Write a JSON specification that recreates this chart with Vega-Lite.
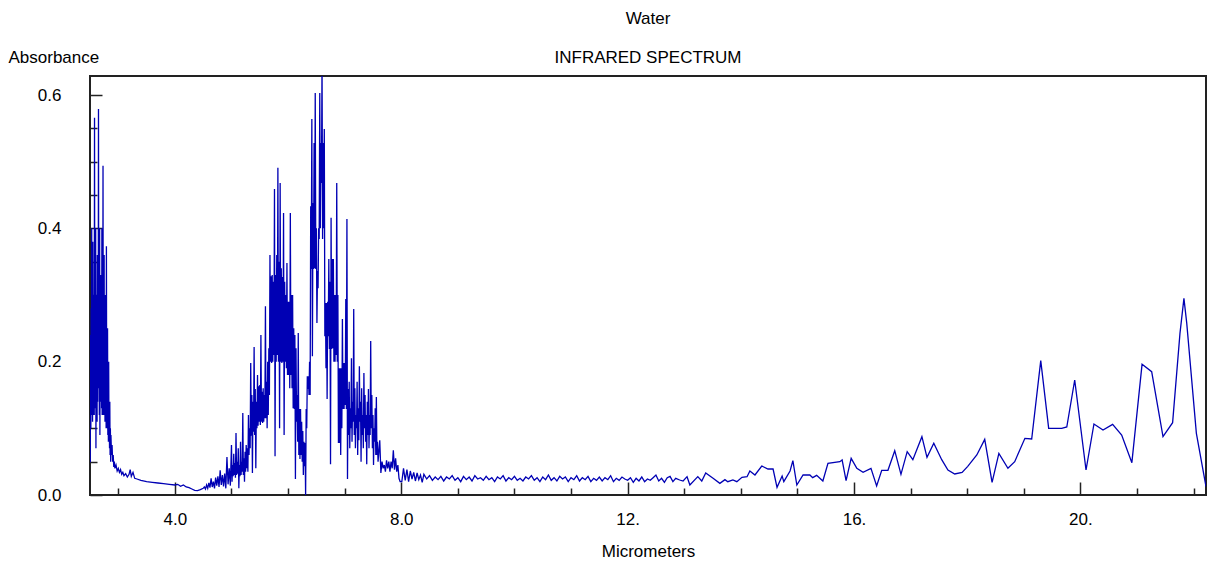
{
 "$schema": "https://vega.github.io/schema/vega-lite/v6.json",
 "width": 1116, "height": 419,
 "autosize": {"type": "none"},
 "padding": {"left": 90, "top": 76, "right": 1, "bottom": 68},
 "background": "white",
 "config": {"view": {"stroke": "#222", "strokeWidth": 2}, "font": "Liberation Sans"},
 "title": {"text": "Water", "subtitle": "INFRARED SPECTRUM", "anchor": "middle", "frame": "group", "fontSize": 17, "fontWeight": "normal", "color": "#000", "subtitleFontSize": 17, "subtitleColor": "#000", "subtitlePadding": 22, "offset": -19, "font": "Liberation Sans", "subtitleFont": "Liberation Sans"},
 "data": {"values": [
{"um":2.500,"abs":0.05},{"um":2.505,"abs":0.05},{"um":2.510,"abs":0.24},{"um":2.515,"abs":0.10},{"um":2.520,"abs":0.28},{"um":2.525,"abs":0.12},{"um":2.530,"abs":0.40},{"um":2.535,"abs":0.13},{"um":2.540,"abs":0.30},{"um":2.545,"abs":0.11},{"um":2.550,"abs":0.38},{"um":2.555,"abs":0.12},{"um":2.560,"abs":0.26},{"um":2.565,"abs":0.14},{"um":2.570,"abs":0.30},{"um":2.575,"abs":0.12},{"um":2.580,"abs":0.566},{"um":2.585,"abs":0.15},{"um":2.590,"abs":0.28},{"um":2.595,"abs":0.13},{"um":2.600,"abs":0.40},{"um":2.605,"abs":0.07},{"um":2.610,"abs":0.28},{"um":2.615,"abs":0.12},{"um":2.620,"abs":0.30},{"um":2.625,"abs":0.11},{"um":2.630,"abs":0.36},{"um":2.635,"abs":0.14},{"um":2.640,"abs":0.28},{"um":2.645,"abs":0.16},{"um":2.650,"abs":0.579},{"um":2.655,"abs":0.16},{"um":2.660,"abs":0.30},{"um":2.665,"abs":0.12},{"um":2.670,"abs":0.40},{"um":2.675,"abs":0.09},{"um":2.680,"abs":0.28},{"um":2.685,"abs":0.17},{"um":2.690,"abs":0.33},{"um":2.695,"abs":0.14},{"um":2.700,"abs":0.29},{"um":2.705,"abs":0.13},{"um":2.710,"abs":0.40},{"um":2.715,"abs":0.12},{"um":2.720,"abs":0.27},{"um":2.725,"abs":0.14},{"um":2.730,"abs":0.494},{"um":2.735,"abs":0.12},{"um":2.740,"abs":0.30},{"um":2.745,"abs":0.14},{"um":2.750,"abs":0.36},{"um":2.755,"abs":0.12},{"um":2.760,"abs":0.26},{"um":2.765,"abs":0.11},{"um":2.770,"abs":0.30},{"um":2.775,"abs":0.12},{"um":2.780,"abs":0.22},{"um":2.785,"abs":0.10},{"um":2.790,"abs":0.373},{"um":2.795,"abs":0.12},{"um":2.800,"abs":0.20},{"um":2.805,"abs":0.10},{"um":2.810,"abs":0.25},{"um":2.815,"abs":0.09},{"um":2.820,"abs":0.16},{"um":2.825,"abs":0.08},{"um":2.830,"abs":0.20},{"um":2.835,"abs":0.09},{"um":2.840,"abs":0.12},{"um":2.845,"abs":0.07},{"um":2.850,"abs":0.14},{"um":2.855,"abs":0.06},{"um":2.860,"abs":0.10},{"um":2.865,"abs":0.05},{"um":2.870,"abs":0.09},{"um":2.88,"abs":0.06},{"um":2.89,"abs":0.075},{"um":2.90,"abs":0.05},{"um":2.91,"abs":0.06},{"um":2.92,"abs":0.042},{"um":2.93,"abs":0.05},{"um":2.94,"abs":0.04},{"um":2.96,"abs":0.045},{"um":2.98,"abs":0.036},{"um":3.00,"abs":0.04},{"um":3.02,"abs":0.034},{"um":3.04,"abs":0.038},{"um":3.06,"abs":0.031},{"um":3.08,"abs":0.034},{"um":3.10,"abs":0.029},{"um":3.13,"abs":0.032},{"um":3.16,"abs":0.027},{"um":3.19,"abs":0.031},{"um":3.21,"abs":0.038},{"um":3.23,"abs":0.028},{"um":3.26,"abs":0.034},{"um":3.29,"abs":0.025},{"um":3.33,"abs":0.024},{"um":3.40,"abs":0.022},{"um":3.50,"abs":0.020},{"um":3.60,"abs":0.019},{"um":3.70,"abs":0.018},{"um":3.80,"abs":0.017},{"um":3.90,"abs":0.016},{"um":4.00,"abs":0.015},{"um":4.05,"abs":0.016},{"um":4.10,"abs":0.013},{"um":4.15,"abs":0.015},{"um":4.20,"abs":0.012},{"um":4.25,"abs":0.011},{"um":4.30,"abs":0.009},{"um":4.35,"abs":0.007},{"um":4.40,"abs":0.0065},{"um":4.45,"abs":0.008},
{"um":4.50,"abs":0.010},{"um":4.52,"abs":0.012},{"um":4.54,"abs":0.009},{"um":4.56,"abs":0.015},{"um":4.58,"abs":0.010},{"um":4.60,"abs":0.018},{"um":4.62,"abs":0.011},{"um":4.64,"abs":0.025},{"um":4.66,"abs":0.012},{"um":4.68,"abs":0.020},{"um":4.70,"abs":0.010},{"um":4.72,"abs":0.026},{"um":4.74,"abs":0.014},{"um":4.76,"abs":0.028},{"um":4.78,"abs":0.012},{"um":4.80,"abs":0.037},{"um":4.82,"abs":0.015},{"um":4.84,"abs":0.030},{"um":4.86,"abs":0.013},{"um":4.88,"abs":0.032},{"um":4.90,"abs":0.010},{"um":4.92,"abs":0.057},{"um":4.94,"abs":0.016},{"um":4.96,"abs":0.040},{"um":4.98,"abs":0.014},
{"um":5.00,"abs":0.075},{"um":5.01,"abs":0.020},{"um":5.02,"abs":0.045},{"um":5.03,"abs":0.028},{"um":5.04,"abs":0.062},{"um":5.05,"abs":0.030},{"um":5.06,"abs":0.048},{"um":5.07,"abs":0.026},{"um":5.08,"abs":0.093},{"um":5.09,"abs":0.030},{"um":5.10,"abs":0.050},{"um":5.11,"abs":0.032},{"um":5.12,"abs":0.070},{"um":5.13,"abs":0.010},{"um":5.14,"abs":0.045},{"um":5.15,"abs":0.028},{"um":5.16,"abs":0.080},{"um":5.17,"abs":0.030},{"um":5.18,"abs":0.050},{"um":5.19,"abs":0.035},{"um":5.20,"abs":0.123},{"um":5.21,"abs":0.030},{"um":5.22,"abs":0.055},{"um":5.23,"abs":0.020},{"um":5.24,"abs":0.065},{"um":5.25,"abs":0.035},{"um":5.26,"abs":0.075},{"um":5.27,"abs":0.040},{"um":5.28,"abs":0.070},{"um":5.29,"abs":0.035},{"um":5.30,"abs":0.120},{"um":5.31,"abs":0.060},{"um":5.32,"abs":0.100},{"um":5.33,"abs":0.070},{"um":5.34,"abs":0.198},{"um":5.35,"abs":0.089},{"um":5.36,"abs":0.150},{"um":5.37,"abs":0.033},{"um":5.38,"abs":0.140},{"um":5.39,"abs":0.095},{"um":5.40,"abs":0.222},{"um":5.41,"abs":0.090},{"um":5.42,"abs":0.159},{"um":5.43,"abs":0.040},{"um":5.44,"abs":0.140},{"um":5.45,"abs":0.100},{"um":5.46,"abs":0.180},{"um":5.47,"abs":0.104},{"um":5.48,"abs":0.163},{"um":5.49,"abs":0.110},{"um":5.50,"abs":0.165},{"um":5.51,"abs":0.105},{"um":5.52,"abs":0.240},{"um":5.53,"abs":0.110},{"um":5.54,"abs":0.155},{"um":5.55,"abs":0.108},{"um":5.56,"abs":0.160},{"um":5.57,"abs":0.110},{"um":5.58,"abs":0.150},{"um":5.59,"abs":0.115},{"um":5.60,"abs":0.283},{"um":5.61,"abs":0.115},{"um":5.62,"abs":0.170},{"um":5.63,"abs":0.100},{"um":5.64,"abs":0.200},{"um":5.65,"abs":0.120},{"um":5.66,"abs":0.220},{"um":5.67,"abs":0.150},{"um":5.68,"abs":0.360},{"um":5.69,"abs":0.200},{"um":5.70,"abs":0.328},{"um":5.71,"abs":0.198},{"um":5.72,"abs":0.330},{"um":5.73,"abs":0.200},{"um":5.74,"abs":0.320},{"um":5.75,"abs":0.210},{"um":5.76,"abs":0.459},{"um":5.77,"abs":0.058},{"um":5.78,"abs":0.330},{"um":5.79,"abs":0.200},{"um":5.80,"abs":0.360},{"um":5.81,"abs":0.210},{"um":5.82,"abs":0.491},{"um":5.83,"abs":0.200},{"um":5.84,"abs":0.350},{"um":5.85,"abs":0.100},{"um":5.86,"abs":0.468},{"um":5.87,"abs":0.200},{"um":5.88,"abs":0.340},{"um":5.89,"abs":0.198},{"um":5.90,"abs":0.327},{"um":5.91,"abs":0.200},{"um":5.92,"abs":0.423},{"um":5.93,"abs":0.090},{"um":5.94,"abs":0.320},{"um":5.95,"abs":0.200},{"um":5.96,"abs":0.300},{"um":5.97,"abs":0.190},{"um":5.98,"abs":0.348},{"um":5.99,"abs":0.180},{"um":6.00,"abs":0.290},{"um":6.01,"abs":0.180},{"um":6.02,"abs":0.290},{"um":6.03,"abs":0.160},{"um":6.04,"abs":0.423},{"um":6.05,"abs":0.180},{"um":6.06,"abs":0.300},{"um":6.07,"abs":0.160},{"um":6.08,"abs":0.300},{"um":6.09,"abs":0.130},{"um":6.10,"abs":0.250},{"um":6.11,"abs":0.129},{"um":6.12,"abs":0.240},{"um":6.13,"abs":0.024},{"um":6.14,"abs":0.220},{"um":6.15,"abs":0.110},{"um":6.16,"abs":0.150},{"um":6.17,"abs":0.080},{"um":6.18,"abs":0.243},{"um":6.19,"abs":0.060},{"um":6.20,"abs":0.129},{"um":6.21,"abs":0.054},{"um":6.22,"abs":0.129},{"um":6.23,"abs":0.060},{"um":6.24,"abs":0.110},{"um":6.25,"abs":0.050},{"um":6.26,"abs":0.096},{"um":6.27,"abs":0.030},{"um":6.28,"abs":0.080},{"um":6.29,"abs":0.043},{"um":6.30,"abs":0.078},{"um":6.31,"abs":0.000},{"um":6.32,"abs":0.129},{"um":6.33,"abs":0.100},{"um":6.34,"abs":0.178},{"um":6.35,"abs":0.159},{"um":6.36,"abs":0.178},{"um":6.37,"abs":0.150},{"um":6.38,"abs":0.200},{"um":6.39,"abs":0.150},{"um":6.40,"abs":0.433},{"um":6.41,"abs":0.339},{"um":6.42,"abs":0.564},{"um":6.43,"abs":0.208},{"um":6.44,"abs":0.438},{"um":6.45,"abs":0.339},{"um":6.46,"abs":0.528},{"um":6.47,"abs":0.340},{"um":6.48,"abs":0.603},{"um":6.49,"abs":0.339},{"um":6.50,"abs":0.400},{"um":6.51,"abs":0.258},{"um":6.52,"abs":0.336},{"um":6.53,"abs":0.310},{"um":6.54,"abs":0.400},{"um":6.55,"abs":0.384},{"um":6.56,"abs":0.603},{"um":6.57,"abs":0.400},{"um":6.58,"abs":0.528},{"um":6.59,"abs":0.468},{"um":6.60,"abs":0.65},{"um":6.61,"abs":0.384},{"um":6.62,"abs":0.528},{"um":6.63,"abs":0.400},{"um":6.64,"abs":0.549},{"um":6.65,"abs":0.238},{"um":6.66,"abs":0.288},{"um":6.67,"abs":0.190},{"um":6.68,"abs":0.288},{"um":6.69,"abs":0.144},{"um":6.70,"abs":0.290},{"um":6.71,"abs":0.238},{"um":6.72,"abs":0.354},{"um":6.73,"abs":0.219},{"um":6.74,"abs":0.320},{"um":6.75,"abs":0.046},{"um":6.76,"abs":0.416},{"um":6.77,"abs":0.219},{"um":6.78,"abs":0.354},{"um":6.79,"abs":0.220},{"um":6.80,"abs":0.354},{"um":6.81,"abs":0.200},{"um":6.82,"abs":0.300},{"um":6.83,"abs":0.200},{"um":6.84,"abs":0.300},{"um":6.85,"abs":0.210},{"um":6.86,"abs":0.468},{"um":6.87,"abs":0.200},{"um":6.88,"abs":0.300},{"um":6.89,"abs":0.078},{"um":6.90,"abs":0.190},{"um":6.91,"abs":0.078},{"um":6.92,"abs":0.190},{"um":6.93,"abs":0.060},{"um":6.94,"abs":0.190},{"um":6.95,"abs":0.100},{"um":6.96,"abs":0.264},{"um":6.97,"abs":0.129},{"um":6.98,"abs":0.198},{"um":6.99,"abs":0.129},{"um":7.00,"abs":0.198},{"um":7.01,"abs":0.135},{"um":7.02,"abs":0.294},{"um":7.03,"abs":0.129},{"um":7.04,"abs":0.414},{"um":7.05,"abs":0.024},{"um":7.06,"abs":0.159},{"um":7.07,"abs":0.090},{"um":7.08,"abs":0.170},{"um":7.09,"abs":0.070},{"um":7.10,"abs":0.130},{"um":7.11,"abs":0.100},{"um":7.12,"abs":0.205},{"um":7.13,"abs":0.080},{"um":7.14,"abs":0.140},{"um":7.15,"abs":0.110},{"um":7.16,"abs":0.279},{"um":7.17,"abs":0.090},{"um":7.18,"abs":0.160},{"um":7.19,"abs":0.070},{"um":7.20,"abs":0.120},{"um":7.21,"abs":0.100},{"um":7.22,"abs":0.170},{"um":7.23,"abs":0.060},{"um":7.24,"abs":0.130},{"um":7.25,"abs":0.082},{"um":7.26,"abs":0.193},{"um":7.27,"abs":0.110},{"um":7.28,"abs":0.140},{"um":7.29,"abs":0.050},{"um":7.30,"abs":0.160},{"um":7.31,"abs":0.090},{"um":7.32,"abs":0.120},{"um":7.33,"abs":0.070},{"um":7.34,"abs":0.183},{"um":7.35,"abs":0.100},{"um":7.36,"abs":0.150},{"um":7.37,"abs":0.080},{"um":7.38,"abs":0.120},{"um":7.39,"abs":0.046},{"um":7.40,"abs":0.140},{"um":7.41,"abs":0.090},{"um":7.42,"abs":0.159},{"um":7.43,"abs":0.070},{"um":7.44,"abs":0.120},{"um":7.45,"abs":0.090},{"um":7.46,"abs":0.231},{"um":7.47,"abs":0.100},{"um":7.48,"abs":0.150},{"um":7.49,"abs":0.070},{"um":7.50,"abs":0.120},{"um":7.51,"abs":0.045},{"um":7.52,"abs":0.100},{"um":7.53,"abs":0.080},{"um":7.54,"abs":0.130},{"um":7.55,"abs":0.060},{"um":7.56,"abs":0.147},{"um":7.57,"abs":0.060},{"um":7.58,"abs":0.080},{"um":7.59,"abs":0.050},{"um":7.60,"abs":0.060},
{"um":7.62,"abs":0.082},{"um":7.64,"abs":0.033},{"um":7.66,"abs":0.050},{"um":7.68,"abs":0.040},{"um":7.70,"abs":0.045},{"um":7.72,"abs":0.035},{"um":7.74,"abs":0.052},{"um":7.76,"abs":0.040},{"um":7.78,"abs":0.050},{"um":7.80,"abs":0.035},{"um":7.82,"abs":0.050},{"um":7.84,"abs":0.040},{"um":7.86,"abs":0.067},{"um":7.88,"abs":0.038},{"um":7.90,"abs":0.055},{"um":7.92,"abs":0.035},{"um":7.94,"abs":0.045},{"um":7.96,"abs":0.025},{"um":7.98,"abs":0.020},
{"um":8.01,"abs":0.020},{"um":8.04,"abs":0.040},{"um":8.07,"abs":0.022},{"um":8.10,"abs":0.038},{"um":8.13,"abs":0.020},{"um":8.16,"abs":0.036},{"um":8.19,"abs":0.024},{"um":8.22,"abs":0.034},{"um":8.25,"abs":0.021},{"um":8.28,"abs":0.033},{"um":8.31,"abs":0.023},{"um":8.34,"abs":0.030},{"um":8.37,"abs":0.019},{"um":8.40,"abs":0.031},{"um":8.45,"abs":0.024},{"um":8.50,"abs":0.029},{"um":8.55,"abs":0.022},{"um":8.60,"abs":0.027},{"um":8.65,"abs":0.023},{"um":8.70,"abs":0.028},{"um":8.75,"abs":0.021},{"um":8.80,"abs":0.027},{"um":8.85,"abs":0.024},{"um":8.90,"abs":0.029},{"um":8.95,"abs":0.022},{"um":9.00,"abs":0.026},{"um":9.05,"abs":0.020},{"um":9.10,"abs":0.028},{"um":9.15,"abs":0.023},{"um":9.20,"abs":0.027},{"um":9.25,"abs":0.021},{"um":9.30,"abs":0.029},{"um":9.35,"abs":0.024},{"um":9.40,"abs":0.026},{"um":9.45,"abs":0.022},{"um":9.50,"abs":0.028},{"um":9.55,"abs":0.023},{"um":9.60,"abs":0.026},{"um":9.65,"abs":0.020},{"um":9.70,"abs":0.027},{"um":9.75,"abs":0.024},{"um":9.80,"abs":0.029},{"um":9.85,"abs":0.021},{"um":9.90,"abs":0.026},{"um":9.95,"abs":0.023},{"um":10.00,"abs":0.028},{"um":10.05,"abs":0.022},{"um":10.10,"abs":0.025},{"um":10.15,"abs":0.021},{"um":10.20,"abs":0.027},{"um":10.25,"abs":0.024},{"um":10.30,"abs":0.029},{"um":10.35,"abs":0.022},{"um":10.40,"abs":0.026},{"um":10.45,"abs":0.020},{"um":10.50,"abs":0.027},{"um":10.55,"abs":0.023},{"um":10.60,"abs":0.030},{"um":10.65,"abs":0.022},{"um":10.70,"abs":0.026},{"um":10.75,"abs":0.021},{"um":10.80,"abs":0.028},{"um":10.85,"abs":0.024},{"um":10.90,"abs":0.027},{"um":10.95,"abs":0.020},{"um":11.00,"abs":0.026},{"um":11.05,"abs":0.023},{"um":11.10,"abs":0.029},{"um":11.15,"abs":0.021},{"um":11.20,"abs":0.026},{"um":11.25,"abs":0.023},{"um":11.30,"abs":0.028},{"um":11.35,"abs":0.020},{"um":11.40,"abs":0.025},{"um":11.45,"abs":0.022},{"um":11.50,"abs":0.027},{"um":11.55,"abs":0.021},{"um":11.60,"abs":0.026},{"um":11.65,"abs":0.023},{"um":11.70,"abs":0.029},{"um":11.75,"abs":0.020},{"um":11.80,"abs":0.025},{"um":11.85,"abs":0.022},{"um":11.90,"abs":0.027},{"um":11.95,"abs":0.024},{"um":12.00,"abs":0.022},{"um":12.05,"abs":0.026},{"um":12.10,"abs":0.019},{"um":12.15,"abs":0.025},{"um":12.20,"abs":0.021},{"um":12.25,"abs":0.027},{"um":12.30,"abs":0.020},{"um":12.35,"abs":0.024},{"um":12.40,"abs":0.022},{"um":12.45,"abs":0.026},{"um":12.50,"abs":0.030},{"um":12.55,"abs":0.021},{"um":12.60,"abs":0.025},{"um":12.65,"abs":0.019},{"um":12.70,"abs":0.026},{"um":12.75,"abs":0.028},{"um":12.80,"abs":0.020},{"um":12.85,"abs":0.025},
{"um":12.92,"abs":0.0225},{"um":12.98,"abs":0.021},{"um":13.05,"abs":0.0275},{"um":13.10,"abs":0.015},{"um":13.24,"abs":0.0275},{"um":13.31,"abs":0.021},{"um":13.38,"abs":0.033},{"um":13.51,"abs":0.025},{"um":13.63,"abs":0.0175},{"um":13.72,"abs":0.023},{"um":13.77,"abs":0.020},{"um":13.86,"abs":0.0225},{"um":13.93,"abs":0.020},{"um":14.02,"abs":0.0265},{"um":14.11,"abs":0.0275},{"um":14.16,"abs":0.036},{"um":14.25,"abs":0.030},{"um":14.37,"abs":0.0435},{"um":14.48,"abs":0.039},{"um":14.57,"abs":0.039},{"um":14.64,"abs":0.0115},{"um":14.73,"abs":0.0285},{"um":14.76,"abs":0.020},{"um":14.87,"abs":0.036},{"um":14.92,"abs":0.0515},{"um":14.99,"abs":0.015},{"um":15.10,"abs":0.030},{"um":15.22,"abs":0.030},{"um":15.27,"abs":0.026},{"um":15.34,"abs":0.0295},{"um":15.45,"abs":0.021},{"um":15.54,"abs":0.0475},{"um":15.75,"abs":0.050},{"um":15.79,"abs":0.0525},{"um":15.86,"abs":0.0215},{"um":15.95,"abs":0.055},{"um":16.05,"abs":0.040},{"um":16.16,"abs":0.034},{"um":16.30,"abs":0.040},{"um":16.40,"abs":0.0135},{"um":16.49,"abs":0.037},{"um":16.60,"abs":0.037},{"um":16.72,"abs":0.0665},{"um":16.83,"abs":0.031},{"um":16.94,"abs":0.065},{"um":17.04,"abs":0.053},{"um":17.20,"abs":0.0875},{"um":17.29,"abs":0.0565},{"um":17.41,"abs":0.0775},{"um":17.55,"abs":0.053},{"um":17.66,"abs":0.0375},{"um":17.78,"abs":0.0315},{"um":17.91,"abs":0.034},{"um":18.01,"abs":0.043},{"um":18.17,"abs":0.060},{"um":18.31,"abs":0.0835},{"um":18.44,"abs":0.019},{"um":18.56,"abs":0.0625},{"um":18.72,"abs":0.040},{"um":18.84,"abs":0.050},{"um":19.02,"abs":0.085},{"um":19.14,"abs":0.084},{"um":19.30,"abs":0.2015},{"um":19.44,"abs":0.100},{"um":19.67,"abs":0.100},{"um":19.76,"abs":0.102},{"um":19.90,"abs":0.1725},{"um":20.10,"abs":0.0375},{"um":20.24,"abs":0.1065},{"um":20.40,"abs":0.0975},{"um":20.57,"abs":0.106},{"um":20.73,"abs":0.090},{"um":20.91,"abs":0.0485},{"um":21.09,"abs":0.196},{"um":21.26,"abs":0.185},{"um":21.46,"abs":0.0875},{"um":21.63,"abs":0.1085},{"um":21.76,"abs":0.2425},{"um":21.83,"abs":0.295},{"um":21.88,"abs":0.2575},{"um":22.05,"abs":0.0925},{"um":22.22,"abs":0.0125}
 ]},
 "mark": {"type": "line", "color": "#0000b4", "strokeWidth": 1.3, "clip": true},
 "encoding": {
  "x": {"field": "um", "type": "quantitative",
   "scale": {"domain": [2.5, 22.22], "nice": false, "zero": false},
   "axis": {"title": "Micrometers", "values": [3,4,5,6,7,8,9,10,11,12,13,14,15,16,17,18,19,20,21,22],
    "tickSize": {"condition": {"test": "datum.value % 4 === 0", "value": -13}, "value": -7},
    "labelExpr": "datum.value % 4 === 0 ? (datum.value < 10 ? format(datum.value, '.1f') : datum.value + '.') : ''",
    "domain": false, "grid": false, "tickColor": "#222", "tickWidth": 1.5,
    "labelFont": "Liberation Sans", "labelFontSize": 17, "labelColor": "#000", "labelPadding": 29, "labelFlush": false, "labelOverlap": false,
    "titleFont": "Liberation Sans", "titleFontSize": 17, "titleFontWeight": "normal", "titleColor": "#000", "titlePadding": 10}},
  "y": {"field": "abs", "type": "quantitative",
   "scale": {"domain": [0, 0.6285], "nice": false, "zero": true},
   "axis": {"title": "Absorbance", "values": [0,0.05,0.1,0.15,0.2,0.25,0.3,0.35,0.4,0.45,0.5,0.55,0.6],
    "tickSize": {"condition": {"test": "round(datum.value*100) % 20 === 0", "value": -12}, "value": -7},
    "labelExpr": "round(datum.value*100) % 20 === 0 ? format(datum.value, '.1f') : ''",
    "domain": false, "grid": false, "tickColor": "#222", "tickWidth": 1.5,
    "labelFont": "Liberation Sans", "labelFontSize": 17, "labelColor": "#000", "labelPadding": 41, "labelFlush": false, "labelOverlap": false,
    "titleFont": "Liberation Sans", "titleFontSize": 17, "titleFontWeight": "normal", "titleColor": "#000",
    "titleAngle": 0, "titleAlign": "left", "titleBaseline": "middle", "titleX": -82, "titleY": -19}}
 }
}
